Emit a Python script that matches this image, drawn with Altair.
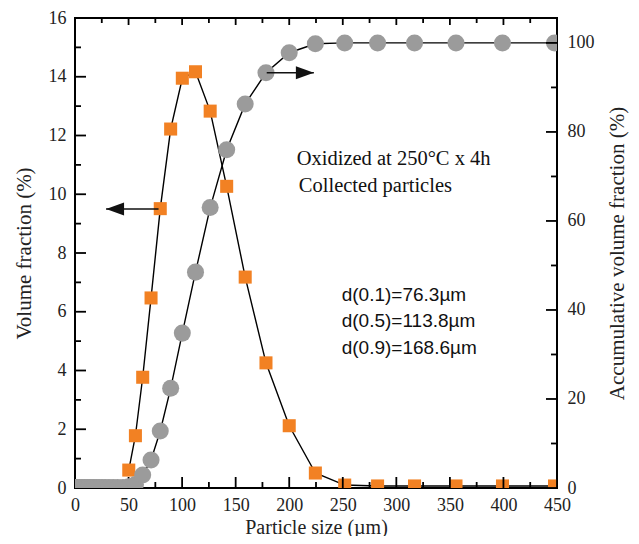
import altair as alt
import pandas as pd

# ---- data ----
vol_size = [50.2, 56.4, 63.2, 71.0, 79.6, 89.3, 100.2, 112.5, 126.2, 141.6,
            158.9, 178.3, 200.0, 224.4, 251.8, 282.5, 317.0, 355.7, 399.1, 447.7]
vol_frac = [0.61, 1.78, 3.77, 6.47, 9.51, 12.22, 13.95, 14.17, 12.83, 10.27,
            7.18, 4.26, 2.12, 0.51, 0.10, 0.07, 0.07, 0.07, 0.07, 0.07]

cum_size = [1.0, 1.3, 1.6, 2.0, 2.5, 3.2, 4.0, 5.0, 6.3, 8.0, 10.0, 11.2, 12.6,
            14.2, 15.9, 17.8, 20.0, 22.4, 25.2, 28.2, 31.7, 35.6, 39.9, 44.8,
            50.2, 56.4, 63.2, 71.0, 79.6, 89.3, 100.2, 112.5, 126.2, 141.6,
            158.9, 178.3, 200.0, 224.4, 251.8, 282.5, 317.0, 355.7, 399.1, 447.7]
cum_frac = [0.1, 0.1, 0.1, 0.1, 0.1, 0.1, 0.1, 0.1, 0.1, 0.1, 0.1, 0.1, 0.1,
            0.1, 0.1, 0.1, 0.1, 0.1, 0.1, 0.1, 0.1, 0.1, 0.1, 0.1,
            0.3, 0.8, 2.9, 6.3, 12.8, 22.4, 34.8, 48.5, 63.0, 76.0,
            86.3, 93.3, 97.8, 99.8, 100.0, 100.0, 100.0, 100.0, 100.0, 100.0]

x_major = [0, 50, 100, 150, 200, 250, 300, 350, 400, 450]
x_minor = [25, 75, 125, 175, 225, 275, 325, 375, 425]
yl_major = [0, 2, 4, 6, 8, 10, 12, 14, 16]
yl_minor = [1, 3, 5, 7, 9, 11, 13, 15]
yr_major = [0, 20, 40, 60, 80, 100]
yr_minor = [10, 30, 50, 70, 90]

notes_serif = ["Oxidized at 250°C x 4h", "Collected particles"]
notes_sans = ["d(0.1)=76.3\u00b5m", "d(0.5)=113.8\u00b5m", "d(0.9)=168.6\u00b5m"]

# annotation placement (data units)
serif_pos = pd.DataFrame({"t": notes_serif, "x": [207, 209], "y": [11.2, 10.28]})
sans_pos = pd.DataFrame({"t": notes_sans, "x": [249, 249, 249], "y": [6.57, 5.69, 4.77]})
arrow_l = pd.DataFrame({"x": [78.0], "x2": [29.0], "y": [9.5]})
arrow_r = pd.DataFrame({"x": [179.0], "x2": [223.0], "y": [93.3]})

SERIF = "Liberation Serif"
SANS = "Liberation Sans"
ORANGE = "#F28123"
GRAY = "#9B9B9B"
INK = "#222222"
W, H = 482, 470

vol_df = pd.DataFrame({"size": vol_size, "frac": vol_frac})
cum_df = pd.DataFrame({"size": cum_size, "frac": cum_frac})

common = dict(grid=False, domain=False, ticks=False,
              labelFont=SERIF, labelFontSize=18, labelColor=INK,
              titleFont=SERIF, titleFontSize=21, titleFontWeight="normal",
              titleColor=INK, labelOverlap=False, labelFlush=False)

x_axis = alt.Axis(orient="bottom", title="Particle size (\u00b5m)", values=x_major,
                  labelPadding=8, titlePadding=3, **{**common, "titleFontSize": 20})
x_top = alt.Axis(orient="top", title=None, labels=False, values=x_major, **common)
yl_axis = alt.Axis(orient="left", title="Volume fraction (%)", values=yl_major,
                   labelPadding=9, titlePadding=14, **common)
yr_axis = alt.Axis(orient="right", title="Accumulative volume fraction (%)",
                   values=yr_major, titleAngle=270, labelPadding=10,
                   titlePadding=33, **common)

xs = alt.Scale(domain=[0, 450], nice=False)
yls = alt.Scale(domain=[0, 16], nice=False)
yrs = alt.Scale(domain=[0, 105.6], nice=False)


def XL(field, axis=x_axis):
    return alt.X(field, type="quantitative", scale=xs, axis=axis)


def XT(field, axis=x_top):
    return alt.X(field, type="quantitative", scale=xs, axis=axis)


def YL(field, axis=yl_axis):
    return alt.Y(field, type="quantitative", scale=yls, axis=axis)


def YR(field, axis=yr_axis):
    return alt.Y(field, type="quantitative", scale=yrs, axis=axis)


def ticks_x(vals, enc_x, edge, inner):
    # inward tick marks along a horizontal frame edge
    return alt.Chart(pd.DataFrame({"v": vals})).mark_rule(
        color="black", strokeWidth=1.8, opacity=1).encode(
        x=enc_x("v"), y=alt.value(edge), y2=alt.value(inner))


def ticks_y(vals, enc_y, edge, inner):
    return alt.Chart(pd.DataFrame({"v": vals})).mark_rule(
        color="black", strokeWidth=1.8, opacity=1).encode(
        y=enc_y("v"), x=alt.value(edge), x2=alt.value(inner))


line_a = alt.Chart(vol_df).mark_line(color="black", strokeWidth=1.4).encode(
    x=XL("size"), y=YL("frac"))
pts_a = alt.Chart(vol_df).mark_point(shape="square", filled=True, size=170,
                                      color=ORANGE, opacity=1, clip=True).encode(
    x=XL("size"), y=YL("frac"))
arr_l_rule = alt.Chart(arrow_l).mark_rule(color="#111", strokeWidth=1.6).encode(
    x=XL("x"), x2="x2:Q", y=YL("y"))
arr_l_head = alt.Chart(arrow_l).mark_point(
    shape="M0,0L2,-0.72L2,0.72Z", filled=True, size=324, color="#111",
    opacity=1, strokeWidth=0).encode(x=XL("x2"), y=YL("y"))
txt_serif = alt.Chart(serif_pos).mark_text(
    font=SERIF, fontSize=20.5, align="left", baseline="middle", color="#111").encode(
    x=XL("x"), y=YL("y"), text="t:N")
txt_sans = alt.Chart(sans_pos).mark_text(
    font=SANS, fontSize=19, align="left", baseline="middle", color="#111").encode(
    x=XL("x"), y=YL("y"), text="t:N")

layer_a = alt.layer(
    line_a, pts_a, arr_l_rule, arr_l_head, txt_serif, txt_sans,
    ticks_x(x_major, XL, H, H - 11), ticks_x(x_minor, XL, H, H - 6),
    ticks_y(yl_major, YL, 0, 11), ticks_y(yl_minor, YL, 0, 6),
)

line_b = alt.Chart(cum_df).mark_line(color="black", strokeWidth=1.4).encode(
    x=XT("size"), y=YR("frac"))
pts_b = alt.Chart(cum_df).mark_circle(size=290, color=GRAY, opacity=1, clip=True).encode(
    x=XT("size"), y=YR("frac"))
arr_r_rule = alt.Chart(arrow_r).mark_rule(color="#111", strokeWidth=1.6).encode(
    x=XT("x"), x2="x2:Q", y=YR("y"))
arr_r_head = alt.Chart(arrow_r).mark_point(
    shape="M0,0L-2,-0.72L-2,0.72Z", filled=True, size=324, color="#111",
    opacity=1, strokeWidth=0).encode(x=XT("x2"), y=YR("y"))

layer_b = alt.layer(
    line_b, pts_b, arr_r_rule, arr_r_head,
    ticks_x(x_major, XT, 0, 7), ticks_x(x_minor, XT, 0, 5),
    ticks_y(yr_major, YR, W, W - 11), ticks_y(yr_minor, YR, W, W - 6),
)

chart = alt.layer(layer_a, layer_b).resolve_scale(
    x="independent", y="independent"
).properties(
    width=W, height=H,
    autosize=alt.AutoSizeParams(type="none"),
    padding={"left": 67, "top": 10, "right": 74, "bottom": 48},
    background="white",
).configure_view(stroke="black", strokeWidth=2)

chart.save("out.html", embed_options={"renderer": "svg", "actions": False})
